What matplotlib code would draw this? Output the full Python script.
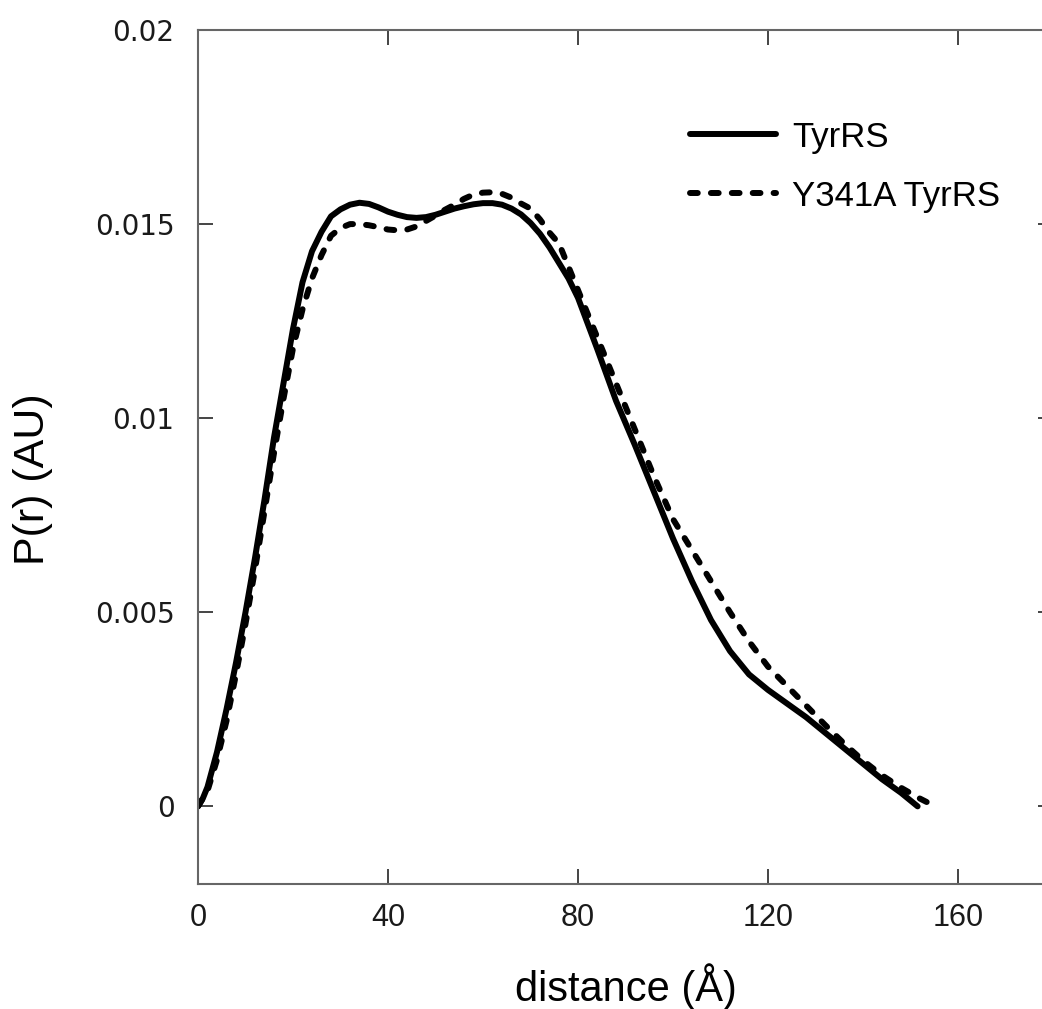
import matplotlib
matplotlib.use("Agg")
import matplotlib.pyplot as plt

plt.rcParams['font.family'] = ['Liberation Sans', 'DejaVu Sans']

# TyrRS (solid)
x_tyr = [0, 1, 2, 4, 6, 8, 10, 12, 14, 16, 18, 20, 22, 24, 26, 28, 30, 32, 34, 36, 38,
         40, 42, 44, 46, 48, 50, 52, 54, 56, 58, 60, 62, 64, 66, 68, 70, 72, 74, 76, 78,
         80, 84, 88, 92, 96, 100, 104, 108, 112, 116, 120, 124, 128, 132, 136, 140, 144,
         148, 151.5]
p_tyr = [0, 0.0002, 0.0005, 0.0014, 0.0025, 0.0037, 0.0050, 0.0064, 0.0079, 0.0095, 0.0109,
         0.0123, 0.0135, 0.0143, 0.0148, 0.0152, 0.01538, 0.0155, 0.01555, 0.01552, 0.01543,
         0.01532, 0.01524, 0.01518, 0.01516, 0.01518, 0.01524, 0.01532, 0.0154, 0.01546,
         0.01551, 0.01554, 0.01554, 0.0155, 0.0154, 0.01525, 0.01503, 0.01475, 0.0144,
         0.0140, 0.0136, 0.0131, 0.0118, 0.01045, 0.0093, 0.0081, 0.0069, 0.0058, 0.0048,
         0.0040, 0.0034, 0.0030, 0.00265, 0.0023, 0.0019, 0.0015, 0.0011, 0.0007,
         0.00035, 0.0]

# Y341A TyrRS (dashed)
x_mut = [0, 2, 4, 6, 8, 10, 12, 14, 16, 18, 20, 22, 24, 26, 28, 30, 32, 34, 36, 38,
         40, 42, 44, 46, 48, 50, 52, 54, 56, 58, 60, 62, 64, 66, 68, 70, 72, 74, 76, 78,
         80, 84, 88, 92, 96, 100, 104, 108, 112, 116, 120, 124, 128, 132, 136, 140, 144,
         148, 152, 155.2]
p_mut = [0, 0.0004, 0.0012, 0.0022, 0.0034, 0.0047, 0.0061, 0.0076, 0.0091, 0.0105,
         0.0118, 0.0128, 0.0136, 0.0142, 0.0147, 0.0149, 0.0150, 0.0150, 0.01497, 0.01492,
         0.01486, 0.01484, 0.01486, 0.01494, 0.01508, 0.01522, 0.01537, 0.0155, 0.01565,
         0.01576, 0.01581, 0.01582, 0.01578, 0.01568, 0.01553, 0.0154, 0.01512, 0.01478,
         0.0145, 0.0139, 0.0133, 0.0121, 0.0109, 0.0097, 0.0085, 0.0074, 0.0066, 0.0058,
         0.0050, 0.00425, 0.0036, 0.0031, 0.0026, 0.0021, 0.00162, 0.00118, 0.0008, 0.00048,
         0.0002, 0.0]

series_labels = ["TyrRS", "Y341A TyrRS"]
x_ticks = [0, 40, 80, 120, 160]
x_ticklabels = ["0", "40", "80", "120", "160"]
y_ticks = [0, 0.005, 0.01, 0.015, 0.02]
y_ticklabels = ["0", "0.005", "0.01", "0.015", "0.02"]
x_label = "distance (Å)"
y_label = "P(r) (AU)"

fig = plt.figure(figsize=(10.42, 10.09), dpi=100)
ax = fig.add_axes([198/1042, 125/1009, 855/1042, 854/1009])

ax.plot(x_tyr, p_tyr, color='black', lw=4.3, solid_capstyle='round',
        solid_joinstyle='round', label=series_labels[0])
ax.plot(x_mut, p_mut, color='black', lw=4.3, linestyle=(0, (1.3, 2.2)),
        dash_capstyle='round', label=series_labels[1])

ax.set_xlim(0, 180)
ax.set_ylim(-0.002, 0.02)
ax.set_xticks(x_ticks)
ax.set_xticklabels(x_ticklabels)
ax.set_yticks(y_ticks)
ax.set_yticklabels(y_ticklabels, family=['DejaVu Sans'], fontsize=20)

for s in ax.spines.values():
    s.set_color('#666666')
    s.set_linewidth(1.5)

ax.tick_params(axis='both', which='both', direction='in', length=10.5, width=1.4,
               color='#444444', top=True, right=True, labelcolor='#1a1a1a')
ax.tick_params(axis='x', pad=14, labelsize=22)
ax.tick_params(axis='y', pad=17)

ax.set_xlabel(x_label, fontsize=30)
ax.set_ylabel(y_label, fontsize=31)
ax.xaxis.set_label_coords(0.5, -0.0925)
ax.yaxis.set_label_coords(-0.1696, 0.474)

leg = ax.legend(loc='upper left', bbox_to_anchor=(0.575, 0.894), frameon=False,
                fontsize=25, handlelength=2.5, handletextpad=0.46, labelspacing=0.75,
                borderaxespad=0, borderpad=0)

fig.savefig("out.png", dpi=100)
